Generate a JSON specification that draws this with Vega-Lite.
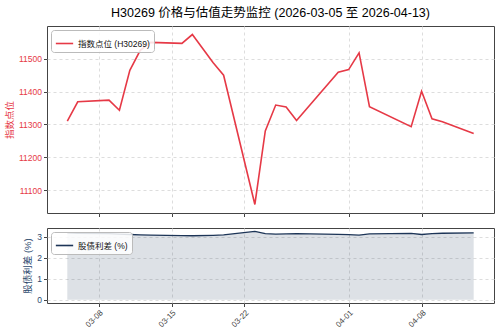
{
  "$schema": "https://vega.github.io/schema/vega-lite/v6.json",
  "padding": {"left": 3, "top": 6, "right": 5, "bottom": 3},
  "config": {
    "font": "Liberation Sans, Noto Sans CJK SC",
    "view": {"stroke": "#444", "strokeWidth": 1},
    "axis": {"domain": false, "grid": true, "gridDash": [3, 3], "gridColor": "#dddddd", "tickColor": "#444", "tickSize": 3.5, "labelFontSize": 8.5, "titleFontSize": 9.5, "titleFontWeight": "normal", "labelPadding": 2},
    "legend": {"orient": "top-left", "title": null, "symbolType": "stroke", "symbolSize": 300, "symbolStrokeWidth": 1.6, "labelFontSize": 8.5, "labelColor": "#111", "fillColor": "rgba(255,255,255,0.85)", "strokeColor": "#bbbbbb", "padding": 4, "offset": 4, "cornerRadius": 3}
  },
  "datasets": {
    "d": [
      {"date": "2026-03-05", "idx": 11310, "spread": 3.18},
      {"date": "2026-03-06", "idx": 11369, "spread": 3.16},
      {"date": "2026-03-09", "idx": 11374, "spread": 3.14},
      {"date": "2026-03-10", "idx": 11343, "spread": 3.12},
      {"date": "2026-03-11", "idx": 11465, "spread": 3.1},
      {"date": "2026-03-12", "idx": 11526, "spread": 3.08},
      {"date": "2026-03-13", "idx": 11550, "spread": 3.07},
      {"date": "2026-03-16", "idx": 11547, "spread": 3.05},
      {"date": "2026-03-17", "idx": 11574, "spread": 3.04},
      {"date": "2026-03-19", "idx": 11488, "spread": 3.06},
      {"date": "2026-03-20", "idx": 11450, "spread": 3.08},
      {"date": "2026-03-23", "idx": 11056, "spread": 3.25},
      {"date": "2026-03-24", "idx": 11280, "spread": 3.14},
      {"date": "2026-03-25", "idx": 11359, "spread": 3.12},
      {"date": "2026-03-26", "idx": 11353, "spread": 3.13},
      {"date": "2026-03-27", "idx": 11312, "spread": 3.14},
      {"date": "2026-03-31", "idx": 11459, "spread": 3.11},
      {"date": "2026-04-01", "idx": 11467, "spread": 3.09},
      {"date": "2026-04-02", "idx": 11518, "spread": 3.07},
      {"date": "2026-04-03", "idx": 11354, "spread": 3.13},
      {"date": "2026-04-07", "idx": 11293, "spread": 3.15},
      {"date": "2026-04-08", "idx": 11401, "spread": 3.1},
      {"date": "2026-04-09", "idx": 11317, "spread": 3.14},
      {"date": "2026-04-10", "idx": 11308, "spread": 3.16},
      {"date": "2026-04-13", "idx": 11272, "spread": 3.18}
    ]
  },
  "spacing": 9,
  "resolve": {"scale": {"color": "independent"}, "legend": {"color": "independent"}},
  "vconcat": [
    {
      "width": 447,
      "height": 187,
      "title": {"text": "H30269 价格与估值走势监控 (2026-03-05 至 2026-04-13)", "fontSize": 12.5, "fontWeight": "normal", "color": "#000", "anchor": "middle", "frame": "group", "offset": 7},
      "data": {"name": "d"},
      "mark": {"type": "line", "strokeWidth": 1.6},
      "encoding": {
        "x": {"field": "date", "type": "temporal",
          "scale": {"type": "utc", "domain": [{"year": 2026, "month": 3, "date": 3, "hours": 1, "minutes": 12, "utc": true}, {"year": 2026, "month": 4, "date": 14, "hours": 22, "minutes": 48, "utc": true}]},
          "axis": {"labels": false, "title": null,
            "values": [{"year": 2026, "month": 3, "date": 8, "utc": true}, {"year": 2026, "month": 3, "date": 15, "utc": true}, {"year": 2026, "month": 3, "date": 22, "utc": true}, {"year": 2026, "month": 4, "date": 1, "utc": true}, {"year": 2026, "month": 4, "date": 8, "utc": true}]}},
        "y": {"field": "idx", "type": "quantitative",
          "scale": {"domain": [11030, 11600], "zero": false, "nice": false},
          "axis": {"values": [11100, 11200, 11300, 11400, 11500], "format": "d", "title": "指数点位", "titleColor": "#e63946", "labelColor": "#e63946"}},
        "color": {"datum": "指数点位 (H30269)", "scale": {"range": ["#e63946"]}}
      }
    },
    {
      "width": 447,
      "height": 75,
      "data": {"name": "d"},
      "encoding": {
        "x": {"field": "date", "type": "temporal",
          "scale": {"type": "utc", "domain": [{"year": 2026, "month": 3, "date": 3, "hours": 1, "minutes": 12, "utc": true}, {"year": 2026, "month": 4, "date": 14, "hours": 22, "minutes": 48, "utc": true}]},
          "axis": {"title": null, "format": "%m-%d", "labelAngle": -45, "labelColor": "#444", "labelFontSize": 8,
            "values": [{"year": 2026, "month": 3, "date": 8, "utc": true}, {"year": 2026, "month": 3, "date": 15, "utc": true}, {"year": 2026, "month": 3, "date": 22, "utc": true}, {"year": 2026, "month": 4, "date": 1, "utc": true}, {"year": 2026, "month": 4, "date": 8, "utc": true}]}},
        "y": {"field": "spread", "type": "quantitative",
          "scale": {"domain": [-0.16, 3.41], "zero": false, "nice": false},
          "axis": {"values": [0, 1, 2, 3], "title": "股债利差 (%)", "titleColor": "#2c4a6e", "labelColor": "#2c4a6e"}}
      },
      "layer": [
        {"mark": {"type": "area", "color": "#1d3557", "opacity": 0.15}, "encoding": {"y2": {"datum": 0}}},
        {"mark": {"type": "line", "strokeWidth": 1.3}, "encoding": {"color": {"datum": "股债利差 (%)", "scale": {"range": ["#1d3557"]}}}}
      ]
    }
  ]
}
